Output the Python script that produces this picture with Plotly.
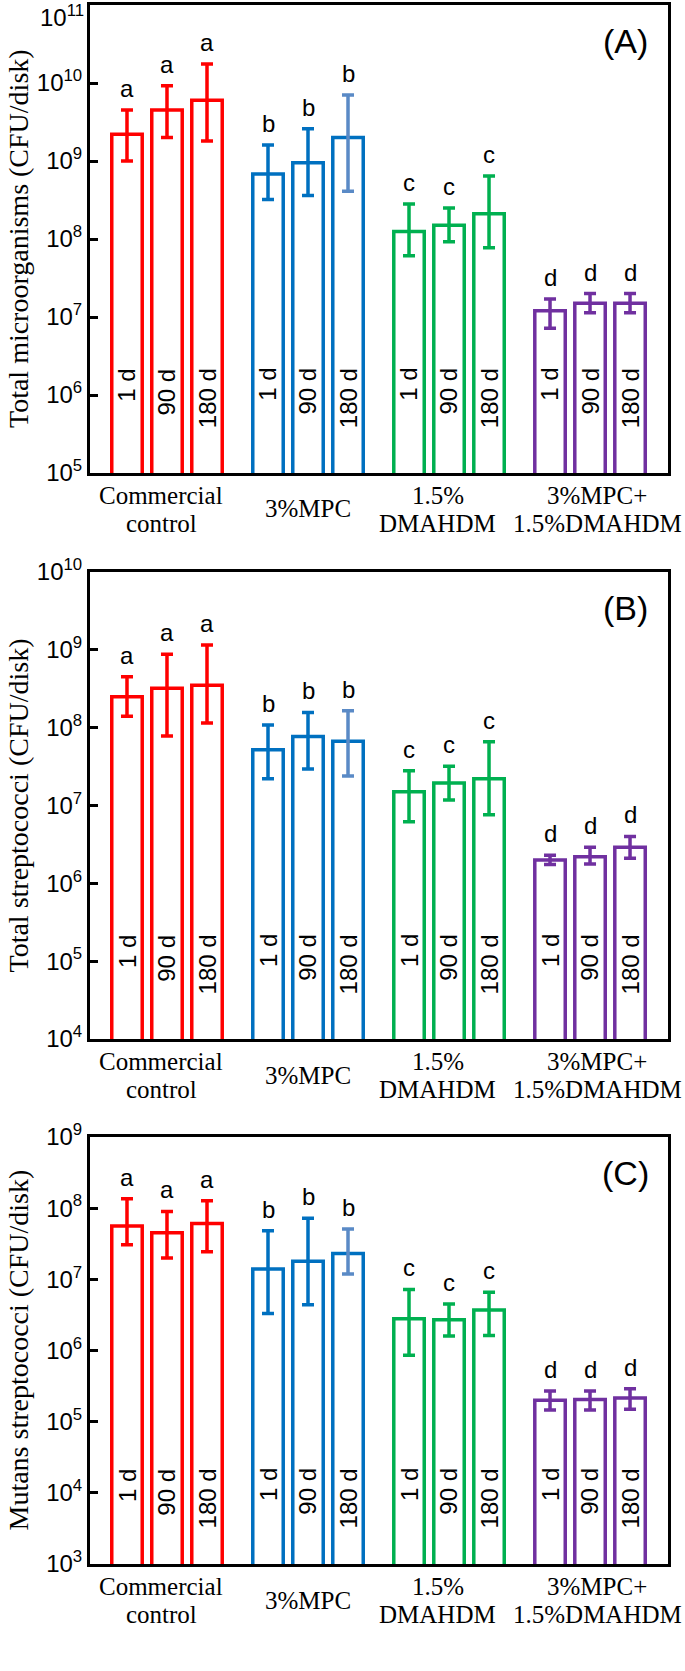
import math
import plotly.graph_objects as go

# ---------------- data ----------------
group_lines = [["Commercial", "control"], ["3%MPC"], ["1.5%", "DMAHDM"], ["3%MPC+", "1.5%DMAHDM"]]
times = ["1 d", "90 d", "180 d"]
letters = ["a", "b", "c", "d"]
group_colors = ["#FF0000", "#0070C0", "#00B050", "#7030A0"]
light_blue = "#5A8AC6"

# Panel A: Total microorganisms (CFU/disk); order: group x time
A_mean = [2.2e9, 4.5e9, 6.0e9, 6.8e8, 9.5e8, 2.0e9, 1.25e8, 1.5e8, 2.1e8, 1.2e7, 1.5e7, 1.5e7]
A_hi = [4.5e9, 9.2e9, 1.75e10, 1.6e9, 2.6e9, 7.0e9, 2.8e8, 2.5e8, 6.4e8, 1.7e7, 2.0e7, 2.0e7]
A_lo = [1.0e9, 2.0e9, 1.8e9, 3.2e8, 3.6e8, 4.1e8, 6.1e7, 9.2e7, 7.7e7, 7.2e6, 1.13e7, 1.13e7]

# Panel B: Total streptococci (CFU/disk)
B_mean = [2.5e8, 3.2e8, 3.5e8, 5.2e7, 7.7e7, 6.7e7, 1.5e7, 1.95e7, 2.2e7, 2.0e6, 2.2e6, 2.9e6]
B_hi = [4.5e8, 8.8e8, 1.15e9, 1.08e8, 1.57e8, 1.65e8, 2.8e7, 3.2e7, 6.6e7, 2.3e6, 2.9e6, 4.0e6]
B_lo = [1.4e8, 7.8e7, 1.15e8, 2.2e7, 2.95e7, 2.4e7, 6.2e6, 1.18e7, 7.6e6, 1.75e6, 1.77e6, 2.1e6]

# Panel C: Mutans streptococci (CFU/disk)
C_mean = [5.6e7, 4.5e7, 6.1e7, 1.4e7, 1.8e7, 2.3e7, 2.8e6, 2.7e6, 3.7e6, 2.0e5, 2.05e5, 2.15e5]
C_hi = [1.36e8, 9.0e7, 1.27e8, 4.8e7, 7.2e7, 5.1e7, 7.2e6, 4.5e6, 6.6e6, 2.7e5, 2.7e5, 2.9e5]
C_lo = [3.05e7, 2.0e7, 2.45e7, 3.3e6, 4.4e6, 1.19e7, 8.6e5, 1.6e6, 1.62e6, 1.46e5, 1.46e5, 1.5e5]

panels = [
    dict(mean=A_mean, hi=A_hi, lo=A_lo, yrange=[5, 11], title="Total microorganisms (CFU/disk)", tag="(A)",
         top=5, bottom=473),
    dict(mean=B_mean, hi=B_hi, lo=B_lo, yrange=[4, 10], title="Total streptococci (CFU/disk)", tag="(B)",
         top=572, bottom=1039),
    dict(mean=C_mean, hi=C_hi, lo=C_lo, yrange=[3, 9], title="Mutans streptococci (CFU/disk)", tag="(C)",
         top=1137, bottom=1564),
]

# ---------------- layout constants ----------------
W, H = 685, 1671
X_LEFT, X_RIGHT = 90, 668
XRANGE = [-0.546, 3.553]
SLOT = 0.2837
BAR_W = 0.216
GROUP_LABEL_X = [-0.04, 1.0, 1.92, 3.05]
ARIAL = "Arial, Liberation Sans, sans-serif"
TIMES = "Times New Roman, Liberation Serif, serif"
INNER_SIZE = 24
TICK_SIZE = 24
LABEL_TOP = 0.224
EM = {" ": 0.278}

fig = go.Figure()
annotations = []
layout_axes = {}

for p, panel in enumerate(panels):
    sfx = "" if p == 0 else str(p + 1)
    xa, ya = "x" + sfx, "y" + sfx
    for g in range(4):
        for j in range(3):
            k = g * 3 + j
            m, hi, lo = panel["mean"][k], panel["hi"][k], panel["lo"][k]
            col = group_colors[g]
            ecol = light_blue if (g == 1 and j == 2) else col
            xpos = g + (j - 1) * SLOT
            fig.add_trace(go.Bar(
                x=[xpos], y=[m], width=BAR_W,
                marker=dict(color="white", line=dict(color=col, width=3.5)),
                error_y=dict(type="data", symmetric=False, array=[hi - m], arrayminus=[m - lo],
                             color=ecol, thickness=3.5, width=6),
                xaxis=xa, yaxis=ya, showlegend=False, hoverinfo="skip",
            ))
            annotations.append(dict(
                x=xpos, y=math.log10(hi), xref=xa, yref=ya,
                text=letters[g], showarrow=False, yanchor="bottom", xanchor="center",
                yshift=6, font=dict(family=ARIAL, size=24, color="black")))
            tlen = sum(EM.get(c, 0.556) for c in times[j]) * INNER_SIZE
            annotations.append(dict(
                x=xpos, y=LABEL_TOP, xref=xa, yref=ya + " domain",
                text=times[j], showarrow=False, textangle=-90,
                yanchor="middle", xanchor="center", yshift=-tlen / 2,
                font=dict(family=ARIAL, size=INNER_SIZE, color="black")))
        lines = group_lines[g]
        base = panel["bottom"]
        ys = [base + 36] if len(lines) == 1 else [base + 22, base + 50]
        for txt, ypx in zip(lines, ys):
            annotations.append(dict(
                x=GROUP_LABEL_X[g], y=1 - ypx / H, xref=xa, yref="paper", text=txt, showarrow=False,
                xanchor="center", yanchor="middle",
                font=dict(family=TIMES, size=25, color="black")))
    # panel tag, centred where the reference puts it
    annotations.append(dict(
        x=625 / W, y=1 - (panel["top"] + 36) / H, xref="paper", yref="paper", text=panel["tag"],
        showarrow=False, xanchor="center", yanchor="middle",
        font=dict(family=ARIAL, size=34, color="black")))
    # y-axis title
    annotations.append(dict(
        x=18 / W, y=1 - (panel["top"] + panel["bottom"]) / 2 / H, xref="paper", yref="paper",
        text=panel["title"], showarrow=False, textangle=-90, xanchor="center", yanchor="middle",
        borderpad=0, font=dict(family=TIMES, size=28, color="black")))

    lo_e, hi_e = panel["yrange"]
    # the very top decade of panel A sits at the page edge; its label is placed just inside
    top_e = hi_e if p > 0 else hi_e - 1
    exps = list(range(lo_e, top_e + 1))
    ydom = [1 - panel["bottom"] / H, 1 - panel["top"] / H]
    layout_axes["xaxis" + sfx] = dict(
        domain=[X_LEFT / W, X_RIGHT / W], range=XRANGE, anchor=ya, automargin=False,
        showticklabels=False, ticks="", showgrid=False, zeroline=False,
        showline=True, linewidth=3, linecolor="black", mirror=True)
    layout_axes["yaxis" + sfx] = dict(
        domain=ydom, type="log", range=panel["yrange"], anchor=xa, automargin=False,
        tickmode="array", tickvals=[10.0 ** e for e in exps],
        ticktext=["10<sup>%d</sup>" % e for e in exps], ticklabeloverflow="allow",
        ticks="inside", ticklen=8, tickwidth=3, tickcolor="black",
        showgrid=False, zeroline=False, showline=True, linewidth=3, linecolor="black", mirror=True,
        tickfont=dict(family=ARIAL, size=TICK_SIZE, color="black"))
    if p == 0:
        annotations.append(dict(
            x=85 / W, y=1.0, xref="paper", yref="paper", text="10<sup>%d</sup>" % hi_e,
            showarrow=False, xanchor="right", yanchor="top", borderpad=0,
            font=dict(family=ARIAL, size=TICK_SIZE, color="black")))

fig.update_layout(
    width=W, height=H, margin=dict(l=0, r=0, t=0, b=0),
    paper_bgcolor="white", plot_bgcolor="white",
    barmode="overlay", annotations=annotations, **layout_axes)

fig.write_html("out.html", config={"displayModeBar": False},
               post_script="document.body.style.margin='0px';document.body.style.padding='0px';")
